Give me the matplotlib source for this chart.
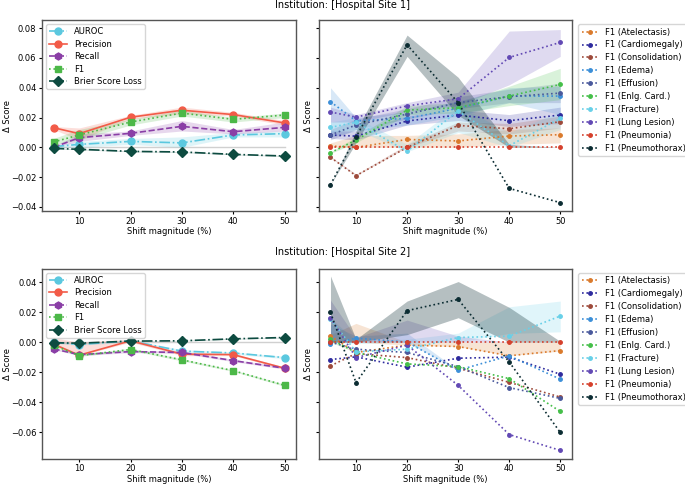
import matplotlib
matplotlib.use("Agg")
import matplotlib.pyplot as plt
import numpy as np

shift = [5, 10, 20, 30, 40, 50]

metrics = ["AUROC", "Precision", "Recall", "F1", "Brier Score Loss"]
metric_colors = ["#5bc8df", "#f25b48", "#8a3ea6", "#4cb848", "#0d4b40"]
metric_styles = ["-.", "-", "--", ":", "-."]
metric_markers = ["o", "o", "h", "s", "D"]

# Hospital Site 1 - overall metrics
s1_auroc = [0.0005, 0.002, 0.004, 0.003, 0.0083, 0.0092]
s1_prec = [0.0132, 0.0092, 0.0202, 0.0249, 0.022, 0.0164]
s1_recall = [0.0, 0.0065, 0.0094, 0.0141, 0.0105, 0.0134]
s1_f1 = [0.0036, 0.0083, 0.017, 0.023, 0.0188, 0.0217]
s1_brier = [-0.0007, -0.0013, -0.0027, -0.0031, -0.0047, -0.0058]
s1_lo = [[0.0, 0.0, 0.002, 0.0, 0.007, 0.007],
         [0.012, 0.005, 0.019, 0.0225, 0.021, 0.015],
         [0.0, 0.004, 0.008, 0.011, 0.009, 0.011],
         [0.002, 0.005, 0.015, 0.021, 0.017, 0.020],
         [-0.001, -0.0016, -0.003, -0.0034, -0.005, -0.0061]]
s1_hi = [[0.001, 0.004, 0.006, 0.007, 0.010, 0.011],
         [0.014, 0.013, 0.0215, 0.027, 0.0235, 0.018],
         [0.001, 0.009, 0.011, 0.018, 0.012, 0.017],
         [0.006, 0.012, 0.019, 0.025, 0.020, 0.023],
         [-0.0004, -0.001, -0.0024, -0.0028, -0.0044, -0.0055]]

# Hospital Site 2 - overall metrics
s2_auroc = [0.0, -0.0016, 0.0009, -0.006, -0.0072, -0.0103]
s2_prec = [-0.0013, -0.0087, 0.0009, -0.008, -0.0083, -0.0174]
s2_recall = [-0.0045, -0.0083, -0.0063, -0.0069, -0.0123, -0.0174]
s2_f1 = [-0.002, -0.009, -0.0049, -0.0118, -0.019, -0.0288]
s2_brier = [-0.0004, -0.0007, 0.0007, 0.0009, 0.0022, 0.0031]
s2_lo = [[-0.001, -0.002, 0.0, -0.007, -0.008, -0.011],
         [-0.002, -0.009, 0.0, -0.009, -0.009, -0.018],
         [-0.005, -0.009, -0.007, -0.0075, -0.013, -0.018],
         [-0.003, -0.0095, -0.0055, -0.0125, -0.0195, -0.0295],
         [-0.0006, -0.0009, 0.0005, 0.0007, 0.002, 0.0028]]
s2_hi = [[0.001, -0.001, 0.0015, -0.005, -0.0065, -0.0095],
         [0.003, 0.0, 0.002, -0.007, -0.0075, -0.0165],
         [-0.004, -0.0075, -0.0055, -0.006, -0.0115, -0.0165],
         [-0.001, -0.0085, -0.004, -0.011, -0.0185, -0.028],
         [-0.0002, -0.0005, 0.0009, 0.0012, 0.0025, 0.0034]]

diseases = ["Atelectasis", "Cardiomegaly", "Consolidation", "Edema", "Effusion",
            "Enlg. Card.", "Fracture", "Lung Lesion", "Pneumonia", "Pneumothorax"]
disease_colors = ["#da7a2c", "#2e2b9e", "#9d4a3b", "#3c8fd8", "#4a599c",
                  "#45bf49", "#68d0e8", "#6249b4", "#d5402c", "#0b2c32"]

# Hospital Site 1 - F1 per finding
d1_vals = [[0.0009, 0.0, 0.0053, 0.0043, 0.0076, 0.0085],
           [0.0083, 0.0075, 0.0177, 0.0217, 0.0179, 0.0217],
           [-0.0067, -0.019, 0.0, 0.0147, 0.0125, 0.0172],
           [0.0306, 0.0178, 0.0194, 0.0262, 0.0344, 0.0344],
           [0.0083, 0.015, 0.0223, 0.030, 0.034, 0.0364],
           [-0.0036, 0.0049, 0.025, 0.0266, 0.0344, 0.0422],
           [0.0134, 0.0168, -0.0026, 0.0245, 0.0011, 0.0194],
           [0.0237, 0.0203, 0.0278, 0.0326, 0.0603, 0.0704],
           [0.0, 0.0, 0.0, 0.0, 0.0, 0.0],
           [-0.025, 0.0069, 0.0688, 0.030, -0.0275, -0.0371]]
d1_lo = [[0.0, 0.0, 0.0, 0.0, 0.002, 0.003],
         [0.006, 0.005, 0.015, 0.018, 0.014, 0.016],
         [-0.007, -0.019, 0.0, 0.011, 0.009, 0.013],
         [0.007, 0.011, 0.015, 0.021, 0.030, 0.022],
         [0.005, 0.012, 0.019, 0.026, 0.030, 0.030],
         [-0.004, 0.003, 0.022, 0.023, 0.028, 0.032],
         [0.010, 0.012, -0.003, 0.010, 0.0, 0.012],
         [0.017, 0.017, 0.024, 0.028, 0.042, 0.061],
         [0.0, 0.0, 0.0, 0.0, 0.0, 0.0],
         [-0.025, 0.003, 0.061, 0.0215, 0.0, 0.0]]
d1_hi = [[0.003, 0.008, 0.008, 0.009, 0.012, 0.013],
         [0.011, 0.011, 0.021, 0.025, 0.022, 0.027],
         [-0.006, -0.018, 0.002, 0.017, 0.016, 0.021],
         [0.040, 0.020, 0.024, 0.031, 0.040, 0.041],
         [0.012, 0.019, 0.026, 0.034, 0.039, 0.043],
         [-0.003, 0.007, 0.028, 0.030, 0.041, 0.053],
         [0.017, 0.020, 0.002, 0.028, 0.010, 0.024],
         [0.027, 0.022, 0.030, 0.037, 0.078, 0.079],
         [0.0, 0.0, 0.0, 0.0, 0.0, 0.0],
         [-0.025, 0.011, 0.0753, 0.047, 0.002, 0.0]]

# Hospital Site 2 - F1 per finding
d2_vals = [[0.004, -0.0069, -0.002, -0.0029, -0.0091, -0.0056],
           [-0.0116, -0.0098, -0.0167, -0.0107, -0.010, -0.0214],
           [-0.0158, -0.0076, -0.0103, -0.0174, -0.0268, -0.0366],
           [-0.0013, 0.0027, 0.0, -0.0187, -0.0091, -0.0247],
           [0.0, -0.0047, -0.0069, -0.0163, -0.0303, -0.0375],
           [0.002, -0.0069, -0.0145, -0.0163, -0.0243, -0.0462],
           [0.0154, -0.0065, -0.0047, 0.0031, 0.004, 0.0174],
           [0.0163, -0.0103, -0.002, -0.0288, -0.0616, -0.0722],
           [0.0, 0.0, 0.0, 0.0, 0.0, 0.0],
           [0.0198, -0.027, 0.021, 0.0285, -0.0132, -0.0602]]
d2_lo = [[0.0, 0.0, -0.002, -0.003, -0.009, -0.006],
         [-0.0116, -0.0098, -0.0167, -0.0107, -0.010, -0.0214],
         [-0.0158, -0.0076, -0.0103, -0.0174, -0.0268, -0.0366],
         [0.0, 0.0, 0.0, -0.0187, -0.0091, -0.0247],
         [0.0, -0.0047, -0.0069, -0.0163, -0.0303, -0.0375],
         [0.0, -0.0069, -0.0145, -0.0163, -0.0243, -0.0462],
         [0.0, -0.001, 0.0, 0.0, 0.0058, 0.0069],
         [0.0, 0.0, 0.0, 0.0, 0.0, 0.0],
         [0.0, 0.0, 0.0, 0.0, 0.0, 0.0],
         [0.0, 0.0, 0.005, 0.0163, 0.0, 0.0]]
d2_hi = [[0.005, 0.0125, 0.0, 0.0, 0.0, 0.0],
         [-0.0116, -0.0098, -0.0167, -0.0107, -0.010, -0.0214],
         [-0.0158, -0.0076, -0.0103, -0.0174, -0.0268, -0.0366],
         [0.012, 0.004, 0.006, -0.0187, -0.0091, -0.0247],
         [0.0, -0.0047, -0.0069, -0.0163, -0.0303, -0.0375],
         [0.002, -0.0069, -0.0145, -0.0163, -0.0243, -0.0462],
         [0.016, 0.001, 0.002, 0.006, 0.0236, 0.0274],
         [0.028, 0.003, 0.0147, 0.004, 0.0, 0.0],
         [0.0, 0.0, 0.0, 0.0, 0.0, 0.0],
         [0.0441, 0.002, 0.0274, 0.0404, 0.0232, 0.0005]]

titles = ["Institution: [Hospital Site 1]", "Institution: [Hospital Site 2]"]

fig = plt.figure(figsize=(6.85, 4.84), dpi=100)

rows = [
    (0.564, 0.3946, [s1_auroc, s1_prec, s1_recall, s1_f1, s1_brier], s1_lo, s1_hi,
     d1_vals, d1_lo, d1_hi, (-0.0427, 0.0854), 0.989),
    (0.052, 0.3926, [s2_auroc, s2_prec, s2_recall, s2_f1, s2_brier], s2_lo, s2_hi,
     d2_vals, d2_lo, d2_hi, (-0.0778, 0.0489), 0.48),
]

for r, (bottom, height, mvals, mlo, mhi, dvals, dlo, dhi, ylim, ty) in enumerate(rows):
    ax1 = fig.add_axes([0.0613, bottom, 0.371, height])
    ax2 = fig.add_axes([0.4657, bottom, 0.369, height], sharey=ax1)

    ax1.plot(shift, np.zeros(len(shift)), color="#d0d0d0", lw=1, zorder=1)
    for i, name in enumerate(metrics):
        ax1.fill_between(shift, mlo[i], mhi[i], color=metric_colors[i], alpha=0.2, lw=0)
        ax1.plot(shift, mvals[i], color=metric_colors[i], ls=metric_styles[i],
                 marker=metric_markers[i], ms=5, lw=1.2, label=name)
    ax1.legend(loc="upper left", fontsize=6, handlelength=2.2, borderpad=0.35,
               labelspacing=0.42, handletextpad=0.8)

    for i, name in enumerate(diseases):
        a = 0.3 if name == "Pneumothorax" else 0.2
        ax2.fill_between(shift, dlo[i], dhi[i], color=disease_colors[i], alpha=a, lw=0)
        ax2.plot(shift, dvals[i], color=disease_colors[i], ls=":", marker="o",
                 ms=2.5, lw=1.2, label="F1 (" + name + ")")
    ax2.legend(loc="upper left", bbox_to_anchor=(1.01, 1.0), fontsize=6,
               handlelength=2, borderpad=0.4, labelspacing=0.47, handletextpad=0.8)
    plt.setp(ax2.get_yticklabels(), visible=False)

    for ax in (ax1, ax2):
        ax.set_ylim(ylim)
        ax.set_xlabel("Shift magnitude (%)", fontsize=6, labelpad=1)
        ax.set_ylabel("Δ Score", fontsize=6, labelpad=2)
        ax.tick_params(labelsize=6, length=2.5, pad=1.5)
        for sp in ax.spines.values():
            sp.set_color("#555555")
            sp.set_linewidth(1.0)
    ax1.yaxis.set_label_coords(-0.118, 0.5)

    fig.text(0.5, ty, titles[r], ha="center", va="center", fontsize=7)

plt.savefig("out.png", dpi=100)
